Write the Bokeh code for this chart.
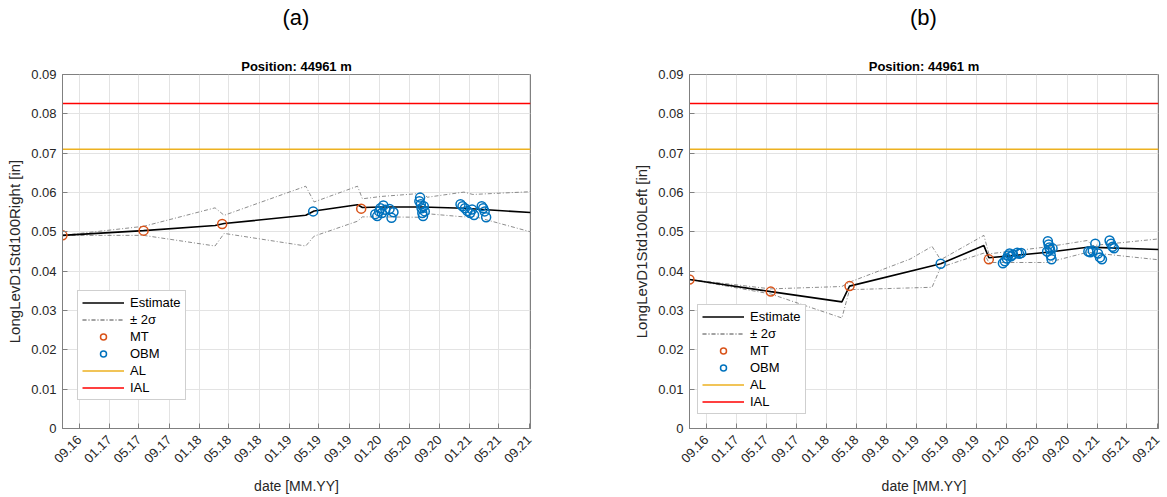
import numpy as np
from datetime import datetime
from math import pi
from bokeh.plotting import figure
from bokeh.layouts import row, column
from bokeh.models import (FixedTicker, DatetimeTickFormatter, CustomJSTickFormatter,
                          Range1d, Legend, LegendItem, Title, Div)
from bokeh.embed import file_html
from bokeh.resources import INLINE

FONT = "Liberation Sans"

# ---------------- data ----------------
tick_dates = ["2016-09-01", "2017-01-01", "2017-05-01", "2017-09-01", "2018-01-01",
              "2018-05-01", "2018-09-01", "2019-01-01", "2019-05-01", "2019-09-01",
              "2020-01-01", "2020-05-01", "2020-09-01", "2021-01-01", "2021-05-01",
              "2021-09-01"]
date_range = ["2016-06-25", "2021-09-06"]
y_ticks = [0, 0.01, 0.02, 0.03, 0.04, 0.05, 0.06, 0.07, 0.08, 0.09]

AL = 0.0710
IAL = 0.0826

mt_dates = ["2016-06-25", "2017-05-20", "2018-04-04", "2019-10-20"]
mt_right = [0.0491, 0.0503, 0.0520, 0.0559]
mt_left = [0.0379, 0.0348, 0.0362, 0.0430]

obm_dates = ["2019-04-08",
             "2019-12-16", "2019-12-24", "2020-01-01", "2020-01-06", "2020-01-12",
             "2020-01-18", "2020-01-26", "2020-02-12", "2020-02-20", "2020-02-28",
             "2020-06-12", "2020-06-15", "2020-06-18", "2020-06-21", "2020-06-24",
             "2020-06-27", "2020-06-30", "2020-07-04",
             "2020-11-26", "2020-12-04", "2020-12-14", "2020-12-24", "2021-01-04",
             "2021-01-12", "2021-01-20", "2021-02-20", "2021-02-26", "2021-03-04",
             "2021-03-10"]
obm_right = [0.0552,
             0.0545, 0.0540, 0.0552, 0.0560, 0.0548, 0.0567, 0.0556, 0.0558, 0.0536, 0.0550,
             0.0578, 0.0587, 0.0570, 0.0560, 0.0548, 0.0540, 0.0565, 0.0552,
             0.0570, 0.0565, 0.0560, 0.0553, 0.0548, 0.0557, 0.0543, 0.0565, 0.0560, 0.0552,
             0.0537]
obm_left = [0.0419,
            0.0420, 0.0425, 0.0432, 0.0440, 0.0445, 0.0438, 0.0442, 0.0447, 0.0444, 0.0446,
            0.0450, 0.0476, 0.0468, 0.0460, 0.0455, 0.0440, 0.0430, 0.0458,
            0.0450, 0.0448, 0.0452, 0.0470, 0.0445, 0.0435, 0.0430, 0.0478, 0.0470, 0.0462,
            0.0458]

# estimate and +/- 2 sigma bounds, panel (a) Right
est_a_dates = ["2016-06-25", "2017-05-20", "2018-03-06", "2018-04-12", "2019-03-09",
               "2019-04-12", "2019-10-05", "2019-10-25", "2020-01-07", "2020-06-25",
               "2020-12-10", "2021-09-06"]
est_a = [0.0491, 0.0503, 0.0516, 0.0521, 0.0542, 0.0553, 0.0569, 0.0562, 0.0563, 0.0563,
         0.0560, 0.0549]
bnd_a_dates = ["2016-06-25", "2017-05-20", "2018-03-06", "2018-04-12", "2019-03-09",
               "2019-04-12", "2019-10-05", "2019-10-25", "2020-01-10", "2020-06-25",
               "2020-07-15", "2020-12-10", "2021-01-15", "2021-09-06"]
up_a = [0.0491, 0.0514, 0.0561, 0.0542, 0.0616, 0.0576, 0.0616, 0.0584, 0.0590, 0.0598,
        0.0588, 0.0601, 0.0595, 0.0602]
lo_a = [0.0491, 0.0491, 0.0464, 0.0496, 0.0464, 0.0489, 0.0527, 0.0538, 0.0538, 0.0537,
        0.0546, 0.0538, 0.0540, 0.0500]

# panel (b) Left
est_b_dates = ["2016-06-25", "2017-05-20", "2018-03-04", "2018-04-04", "2019-04-08",
               "2019-09-30", "2019-10-20", "2020-06-15", "2020-11-22", "2021-09-06"]
est_b = [0.0379, 0.0348, 0.0322, 0.0362, 0.0419, 0.0465, 0.0434, 0.0448, 0.0461, 0.0455]
up_b_dates = ["2016-06-25", "2017-05-20", "2018-03-04", "2018-04-04", "2018-12-06",
              "2019-03-04", "2019-04-08", "2019-09-30", "2019-10-20", "2020-01-10",
              "2020-06-15", "2020-11-22", "2020-12-12", "2021-09-06"]
up_b = [0.0379, 0.0355, 0.0361, 0.0372, 0.0431, 0.0463, 0.0429, 0.0491, 0.0444, 0.0450,
        0.0462, 0.0478, 0.0465, 0.0482]
lo_b_dates = ["2016-06-25", "2017-05-20", "2018-03-04", "2018-04-04", "2019-03-04",
              "2019-04-08", "2019-09-30", "2019-10-20", "2020-06-15", "2020-11-22",
              "2021-09-06"]
lo_b = [0.0379, 0.0342, 0.0281, 0.0353, 0.0359, 0.0410, 0.0446, 0.0422, 0.0422, 0.0448,
        0.0429]

# ---------------- helpers ----------------
def dt(lst):
    return np.array(lst, dtype="datetime64[ms]")

def ms(s):
    return float((np.datetime64(s, "ms") - np.datetime64("1970-01-01", "ms")) / np.timedelta64(1, "ms"))

MT_COLOR = "#D95319"
OBM_COLOR = "#0072BD"
AL_COLOR = "#EDB120"
IAL_COLOR = "#FF0000"
BND_COLOR = "#6e6e6e"
AX_COLOR = "#808080"
TXT_COLOR = "#262626"
FRAME_H = 354
HEAD_H = 36


def make_panel(ylabel, est_d, est_v, up_d, up_v, lo_d, lo_v, mt_v, obm_v,
               border_left, border_right, legend_loc, fw):
    p = figure(frame_width=fw, frame_height=FRAME_H, output_backend="svg",
               toolbar_location=None, title=None,
               x_range=Range1d(start=datetime.fromisoformat(date_range[0]),
                               end=datetime.fromisoformat(date_range[1])),
               y_range=Range1d(0, 0.09), x_axis_type="datetime",
               min_border_left=border_left, min_border_right=border_right,
               min_border_top=74 - HEAD_H, min_border_bottom=0)
    p.background_fill_color = "white"
    p.outline_line_color = AX_COLOR
    p.outline_line_width = 1

    p.add_layout(Title(text="Position: 44961 m", align="center", text_font=FONT,
                       text_font_size="13px", text_font_style="bold",
                       text_color="black", standoff=1), "above")

    # axes
    xa = p.xaxis[0]
    xa.ticker = FixedTicker(ticks=[ms(d) for d in tick_dates])
    fmt = "%m.%y"
    xa.formatter = DatetimeTickFormatter(
        microseconds=fmt, milliseconds=fmt, seconds=fmt, minsec=fmt, minutes=fmt,
        hourmin=fmt, hours=fmt, days=fmt, months=fmt, years=fmt)
    xa.major_label_orientation = pi / 4
    xa.axis_label = "date [MM.YY]"
    ya = p.yaxis[0]
    ya.ticker = FixedTicker(ticks=y_ticks)
    ya.formatter = CustomJSTickFormatter(code="return tick === 0 ? '0' : tick.toFixed(2);")
    ya.axis_label = ylabel
    for ax in (xa, ya):
        ax.axis_line_color = AX_COLOR
        ax.major_tick_line_color = AX_COLOR
        ax.major_tick_in = 5
        ax.major_tick_out = 0
        ax.minor_tick_line_color = None
        ax.major_label_text_font = FONT
        ax.major_label_text_font_size = "13px"
        ax.major_label_text_color = TXT_COLOR
        ax.axis_label_text_font = FONT
        ax.axis_label_text_font_style = "normal"
        ax.axis_label_text_color = TXT_COLOR
    xa.axis_label_text_font_size = "14px"
    ya.axis_label_text_font_size = "15px"
    ya.major_label_standoff = 6
    ya.axis_label_standoff = 5
    xa.major_label_standoff = 9
    xa.axis_label_standoff = 8

    p.xgrid.ticker = xa.ticker
    p.ygrid.ticker = ya.ticker
    for g in (p.xgrid[0], p.ygrid[0]):
        g.grid_line_color = "#e3e3e3"
        g.grid_line_width = 1

    # glyphs
    r_al = p.line(dt(date_range), [AL, AL], line_color=AL_COLOR, line_width=1.5)
    r_ial = p.line(dt(date_range), [IAL, IAL], line_color=IAL_COLOR, line_width=1.5)
    r_up = p.line(dt(up_d), up_v, line_color=BND_COLOR, line_width=0.8, line_dash="4 2 1 2")
    r_lo = p.line(dt(lo_d), lo_v, line_color=BND_COLOR, line_width=0.8, line_dash="4 2 1 2")
    r_est = p.line(dt(est_d), est_v, line_color="black", line_width=1.6)
    r_mt = p.scatter(dt(mt_dates), mt_v, marker="circle", size=9, fill_color=None,
                     line_color=MT_COLOR, line_width=1.5)
    r_obm = p.scatter(dt(obm_dates), obm_v, marker="circle", size=9, fill_color=None,
                      line_color=OBM_COLOR, line_width=1.5)

    legend = Legend(items=[
        LegendItem(label="Estimate", renderers=[r_est]),
        LegendItem(label="± 2σ", renderers=[r_up, r_lo]),
        LegendItem(label="MT", renderers=[r_mt]),
        LegendItem(label="OBM", renderers=[r_obm]),
        LegendItem(label="AL", renderers=[r_al]),
        LegendItem(label="IAL", renderers=[r_ial]),
    ], location=legend_loc)
    legend.label_text_font = FONT
    legend.label_text_font_size = "13px"
    legend.label_text_color = "black"
    legend.border_line_color = "#a0a0a0"
    legend.border_line_width = 1
    legend.background_fill_color = "white"
    legend.background_fill_alpha = 1
    legend.glyph_width = 42
    legend.glyph_height = 15
    legend.label_height = 15
    legend.spacing = 2
    legend.padding = 4
    legend.margin = 0
    legend.label_standoff = 6
    p.add_layout(legend)
    return p


def header(letter, center_x):
    return Div(text=letter, width=int(2 * center_x), height=HEAD_H, margin=(0, 0, 0, 0),
               styles={"font-size": "22px", "line-height": f"{HEAD_H}px",
                       "text-align": "center", "font-family": FONT, "color": "black"})


pa = make_panel("LongLevD1Std100Right [in]", est_a_dates, est_a, bnd_a_dates, up_a,
                bnd_a_dates, lo_a, mt_right, obm_right, 62, 100, (15, 28), 468)
pb = make_panel("LongLevD1Std100Left [in]", est_b_dates, est_b, up_b_dates, up_b,
                lo_b_dates, lo_b, mt_left, obm_left, 59, 5, (8, 14), 469)

layout = row(column(header("(a)", 62 + 468 / 2), pa, spacing=0),
             column(header("(b)", 59 + 469 / 2), pb, spacing=0), spacing=0)
open("out.html", "w").write(file_html(layout, INLINE))
